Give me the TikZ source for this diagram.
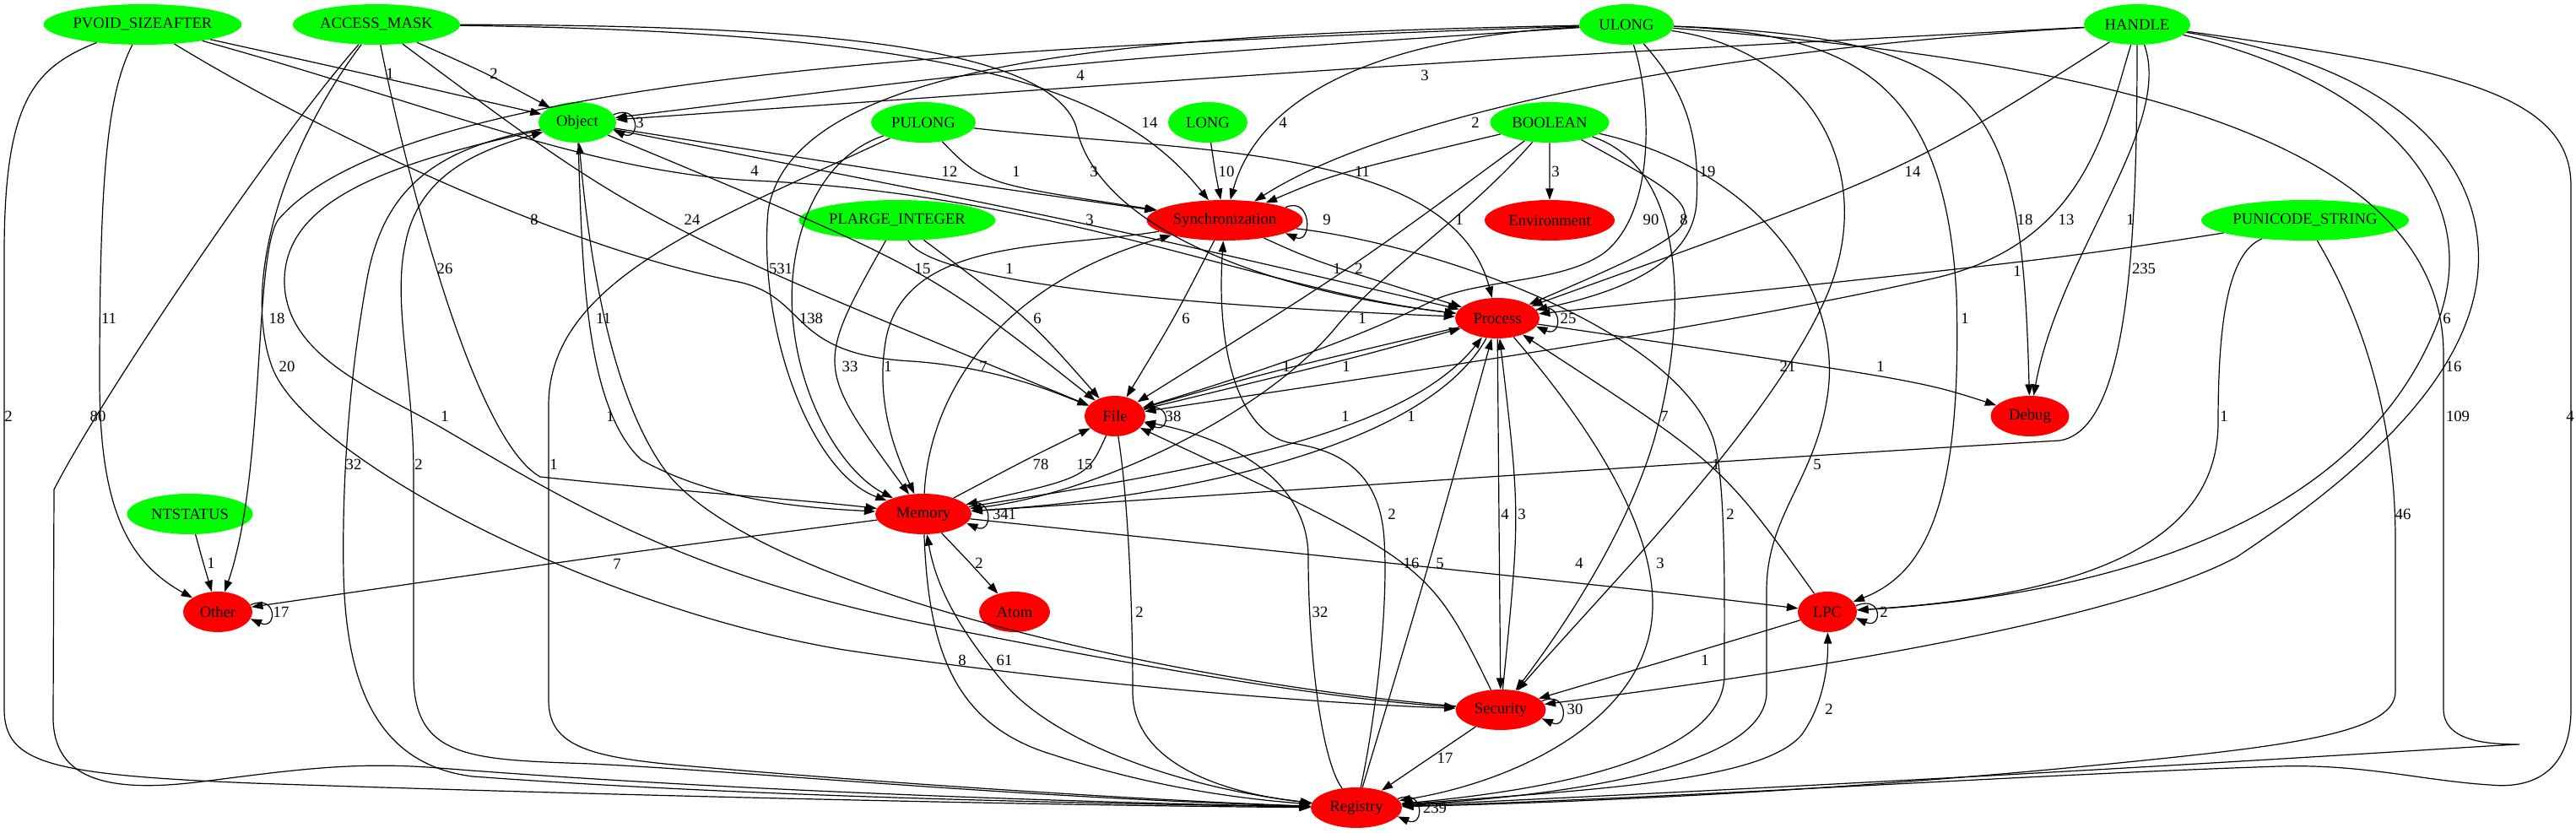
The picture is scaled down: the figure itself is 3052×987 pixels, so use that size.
\documentclass[tikz,border=0pt]{standalone}
\usepackage{fontspec}
\setmainfont{Liberation Serif}
\usetikzlibrary{shapes.geometric,arrows.meta,calc}
\tikzset{
  gn/.style={ellipse,fill=green,draw=none,inner sep=0pt,minimum height=36pt,font=\fontsize{14}{16}\selectfont},
  rn/.style={ellipse,fill=red,draw=none,inner sep=0pt,minimum height=36pt,font=\fontsize{14}{16}\selectfont},
  edg/.style={draw=black,line width=0.9pt,-{Triangle[length=10pt,width=7pt]}},
  lbl/.style={font=\fontsize{14}{16}\selectfont,inner sep=0pt,text=black},
}
\newcommand\QEdge[7]{\draw[edg] (#1) .. controls ($1.3333*(#3,#4)-0.16667*(#1)-0.16667*(#2)$) .. (#2) node[lbl,at={(#6,#7)}]{#5};}
\newcommand\SelfLoop[4]{\draw[edg] (#1.12) .. controls +(32,-14) and +(32,14) .. (#1.-12) node[lbl,at={(#3,#4)}]{#2};}
\begin{document}
\begin{tikzpicture}[x=0.75pt,y=-0.75pt]
\fill[white] (0,0) rectangle (3052,987);
\useasboundingbox (0,0) rectangle (3052,987);
% nodes
\node[gn,minimum width=176pt] (PVOID) at (169,29) {PVOID\_SIZEAFTER};
\node[gn,minimum width=148.5pt] (ACCESS) at (446,29) {ACCESS\_MASK};
\node[gn,minimum width=84pt] (ULONG) at (1927,29) {ULONG};
\node[gn,minimum width=94.5pt] (HANDLE) at (2532,29) {HANDLE};
\node[gn,minimum width=69pt] (Object) at (684,145) {Object};
\node[gn,minimum width=93pt] (PULONG) at (1094,145) {PULONG};
\node[gn,minimum width=70.5pt] (LONG) at (1431,145) {LONG};
\node[gn,minimum width=105.75pt] (BOOLEAN) at (1836,145) {BOOLEAN};
\node[gn,minimum width=174.75pt] (PLARGE) at (1063,261) {PLARGE\_INTEGER};
\node[rn,minimum width=138.75pt] (Sync) at (1451,261) {Synchronization};
\node[rn,minimum width=115.5pt] (Env) at (1836,261) {Environment};
\node[gn,minimum width=184.5pt] (PUNICODE) at (2731,261) {PUNICODE\_STRING};
\node[rn,minimum width=75pt] (Process) at (1774,377) {Process};
\node[rn,minimum width=54pt] (File) at (1321,493) {File};
\node[rn,minimum width=69.75pt] (Debug) at (2405,493) {Debug};
\node[gn,minimum width=111.75pt] (NTSTATUS) at (225,609) {NTSTATUS};
\node[rn,minimum width=85.5pt] (Memory) at (1094,609) {Memory};
\node[rn,minimum width=61.5pt] (Other) at (258,725) {Other};
\node[rn,minimum width=63pt] (Atom) at (1202,725) {Atom};
\node[rn,minimum width=52.5pt] (LPC) at (2165,725) {LPC};
\node[rn,minimum width=80.25pt] (Security) at (1778,841) {Security};
\node[rn,minimum width=81pt] (Registry) at (1607,957) {Registry};
% rank 1
\QEdge{PVOID}{Object}{430}{87}{1}{462}{87}
\QEdge{ACCESS}{Object}{574}{87}{2}{585}{87}
\QEdge{ULONG}{Object}{1280}{76}{4}{1280}{89}
\QEdge{HANDLE}{Object}{1688}{76}{3}{1688}{89}
% rank 2
\draw[edg] (ACCESS) .. controls (1150,38) and (1330,110) .. (Sync) node[lbl,at={(1362,145)}]{14};
\draw[edg] (ULONG) .. controls (1620,45) and (1490,120) .. (Sync) node[lbl,at={(1520,145)}]{4};
\draw[edg] (HANDLE) .. controls (2000,60) and (1640,140) .. (Sync) node[lbl,at={(1748,145)}]{2};
% rank 3
\draw[edg] (PVOID) .. controls (500,120) and (700,205) .. (894,214) .. controls (1250,230) and (1500,345) .. (Process) node[lbl,at={(894,202)}]{4};
\QEdge{Object}{Sync}{1125}{214}{12}{1125}{203}
\QEdge{PULONG}{Sync}{1192}{214}{1}{1204}{203}
\draw[edg] (ACCESS) .. controls (900,30) and (1240,45) .. (1275,150) .. controls (1300,270) and (1500,345) .. (Process) node[lbl,at={(1296,203)}]{3};
\QEdge{LONG}{Sync}{1440}{203}{10}{1453}{203}
\QEdge{BOOLEAN}{Sync}{1597}{205}{11}{1614}{203}
\QEdge{BOOLEAN}{Env}{1836}{203}{3}{1843}{203}
\draw[edg] (ULONG) .. controls (1990,100) and (2015,150) .. (2010,240) .. controls (2005,320) and (1900,350) .. (Process) node[lbl,at={(2023,203)}]{19};
\QEdge{HANDLE}{Process}{2233}{203}{14}{2266}{203}
% rank 4
\draw[edg] (PVOID) .. controls (350,140) and (650,290) .. (870,333) .. controls (960,350) and (930,420) .. (1080,428) .. controls (1180,435) and (1250,465) .. (File) node[lbl,at={(633,260)}]{8};
\QEdge{ACCESS}{File}{790}{262}{24}{820}{260}
\QEdge{Object}{Process}{1278}{264}{3}{1291}{260}
\draw[edg] (PULONG) .. controls (1400,180) and (1720,170) .. (Process) node[lbl,at={(1729,260)}]{1};
\draw[edg] (ULONG) .. controls (1955,110) and (1965,250) .. (1900,300) .. controls (1850,335) and (1760,330) .. (1700,355) .. controls (1640,385) and (1560,420) .. (File) node[lbl,at={(1956,260)}]{90};
\QEdge{BOOLEAN}{Process}{1985}{260}{8}{1995}{260}
\draw[edg] (ULONG) .. controls (2360,45) and (2395,120) .. (Debug) node[lbl,at={(2399,260)}]{18};
\draw[edg] (HANDLE) .. controls (2495,150) and (2470,290) .. (2290,330) .. controls (2000,395) and (1600,450) .. (File) node[lbl,at={(2448,260)}]{13};
\draw[edg] (HANDLE) .. controls (2575,150) and (2440,300) .. (Debug) node[lbl,at={(2524,260)}]{1};
% rank 5
\draw[edg] (ACCESS) .. controls (480,200) and (560,520) .. (640,565) .. controls (800,582) and (950,592) .. (Memory) node[lbl,at={(527,318)}]{26};
\draw[edg] (ULONG) .. controls (1400,40) and (940,60) .. (910,250) .. controls (898,390) and (960,560) .. (Memory) node[lbl,at={(925,318)}]{531};
\QEdge{Object}{File}{1075}{318}{15}{1093}{318}
\draw[edg] (PLARGE) .. controls (1100,330) and (1350,360) .. (Process) node[lbl,at={(1196,318)}]{1};
\QEdge{Sync}{Process}{1572}{312}{1}{1584}{318}
\QEdge{BOOLEAN}{File}{1596}{318}{2}{1610}{318}
\QEdge{PUNICODE}{Process}{2390}{310}{1}{2390}{321}
\draw[edg] (HANDLE) .. controls (2532,300) and (2520,510) .. (2440,522) .. controls (2000,548) and (1400,590) .. (Memory) node[lbl,at={(2540,318)}]{235};
% rank 6
\draw[edg] (PVOID) .. controls (128,110) and (118,200) .. (118,450) .. controls (118,600) and (150,665) .. (Other) node[lbl,at={(129,377)}]{11};
\draw[edg] (ULONG) .. controls (1200,55) and (480,85) .. (330,260) .. controls (300,300) and (315,560) .. (Other) node[lbl,at={(328,377)}]{18};
\draw[edg] (Object) .. controls (690,300) and (690,480) .. (760,545) .. controls (850,595) and (960,602) .. (Memory) node[lbl,at={(715,377)}]{11};
\draw[edg] (PULONG) .. controls (960,190) and (930,300) .. (940,385) .. controls (950,480) and (1000,560) .. (Memory) node[lbl,at={(961,377)}]{138};
\QEdge{PLARGE}{File}{1212}{377}{6}{1229}{377}
\QEdge{Sync}{File}{1390}{377}{6}{1405}{377}
\draw[edg] (BOOLEAN) .. controls (1740,255) and (1640,320) .. (1585,385) .. controls (1500,490) and (1300,585) .. (Memory) node[lbl,at={(1614,377)}]{1};
\draw[edg] (ULONG) .. controls (2200,40) and (2305,100) .. (2318,350) .. controls (2325,600) and (2280,680) .. (LPC) node[lbl,at={(2328,377)}]{1};
\draw[edg] (HANDLE) .. controls (2800,90) and (2955,220) .. (2885,390) .. controls (2790,620) and (2500,705) .. (LPC) node[lbl,at={(2899,377)}]{6};
% rank 7
\draw[edg] (HANDLE) .. controls (2850,80) and (2950,200) .. (2935,330) .. controls (2920,450) and (2800,560) .. (2650,660) .. controls (2500,740) and (2100,800) .. (Security) node[lbl,at={(2907,434)}]{16};
\draw[edg] (ACCESS) .. controls (340,170) and (285,330) .. (322,434) .. controls (360,540) and (700,720) .. (1000,770) .. controls (1300,815) and (1600,835) .. (Security) node[lbl,at={(340,434)}]{20};
\QEdge{PLARGE}{Memory}{994}{434}{33}{1007}{434}
\draw[edg] (Sync) .. controls (1250,295) and (1075,280) .. (1050,400) .. controls (1035,480) and (1065,545) .. (Memory) node[lbl,at={(1052,434)}]{1};
\draw[edg] (Memory) .. controls (1100,480) and (1170,340) .. (Sync) node[lbl,at={(1165,434)}]{7};
\QEdge{Process}{File}{1512}{440}{1}{1524}{434}
\QEdge{File}{Process}{1586}{428}{1}{1595}{434}
\draw[edg] (ULONG) .. controls (2150,60) and (2230,210) .. (2160,360) .. controls (2090,510) and (1900,700) .. (Security) node[lbl,at={(2118,434)}]{21};
\QEdge{Process}{Debug}{2228}{447}{1}{2228}{434}
% rank 8
\draw[edg] (PVOID) .. controls (40,80) and (5,120) .. (5,300) -- (5,840) .. controls (5,905) and (60,918) .. (300,928) .. controls (800,945) and (1300,955) .. (Registry) node[lbl,at={(10,493)}]{2};
\draw[edg] (ACCESS) .. controls (330,160) and (120,470) .. (64,580) -- (63,850) .. controls (63,925) and (130,940) .. (240,926) .. controls (350,912) and (420,902) .. (520,910) .. controls (900,940) and (1350,952) .. (Registry) node[lbl,at={(116,493)}]{80};
\draw[edg] (Object) .. controls (450,195) and (340,240) .. (337,330) .. controls (335,420) and (440,460) .. (520,505) .. controls (650,580) and (800,680) .. (1100,740) .. controls (1400,800) and (1600,830) .. (Security) node[lbl,at={(527,493)}]{1};
\draw[edg] (Security) .. controls (1400,810) and (900,700) .. (790,560) .. controls (730,480) and (700,330) .. (Object) node[lbl,at={(723,493)}]{1};
\draw[edg] (Process) .. controls (1690,530) and (1400,590) .. (Memory) node[lbl,at={(1594,493)}]{1};
\draw[edg] (Memory) .. controls (1400,560) and (1660,520) .. (Process) node[lbl,at={(1672,493)}]{1};
\draw[edg] (BOOLEAN) .. controls (2000,200) and (2000,380) .. (1960,520) .. controls (1925,640) and (1840,760) .. (Security) node[lbl,at={(1972,493)}]{7};
\draw[edg] (PUNICODE) .. controls (2640,300) and (2628,380) .. (2628,500) .. controls (2628,640) and (2480,705) .. (LPC) node[lbl,at={(2635,493)}]{1};
\draw[edg] (ULONG) .. controls (2450,70) and (2895,150) .. (2895,420) -- (2895,840) .. controls (2895,876) and (2940,882) .. (2985,882) .. controls (2930,884) and (2500,915) .. (Registry) node[lbl,at={(2912,493)}]{109};
\draw[edg] (HANDLE) .. controls (2900,80) and (3046,110) .. (3046,220) -- (3046,840) .. controls (3046,915) and (3000,935) .. (2950,930) .. controls (2870,925) and (2800,905) .. (2700,908) .. controls (2400,918) and (2000,945) .. (Registry) node[lbl,at={(3045,493)}]{4};
% rank 9
\draw[edg] (Object) .. controls (520,175) and (455,220) .. (435,330) .. controls (415,440) and (405,560) .. (407,680) .. controls (410,800) and (440,905) .. (560,920) .. controls (900,945) and (1300,952) .. (Registry) node[lbl,at={(419,550)}]{32};
\draw[edg] (Registry) .. controls (1200,945) and (900,915) .. (700,905) .. controls (560,900) and (490,900) .. (490,800) -- (490,560) .. controls (490,450) and (465,360) .. (480,290) .. controls (495,210) and (560,180) .. (Object) node[lbl,at={(496,550)}]{2};
\draw[edg] (PULONG) .. controls (850,260) and (650,330) .. (650,480) -- (650,830) .. controls (650,885) and (700,898) .. (820,908) .. controls (1100,932) and (1400,950) .. (Registry) node[lbl,at={(656,550)}]{1};
\QEdge{Memory}{File}{1214}{546}{78}{1233}{550}
\QEdge{File}{Memory}{1268}{562}{15}{1285}{550}
\QEdge{LPC}{Process}{2022}{550}{1}{2033}{550}
\draw[edg] (BOOLEAN) .. controls (2080,200) and (2185,340) .. (2165,470) .. controls (2150,570) and (2093,610) .. (2093,700) -- (2093,820) .. controls (2093,900) and (1900,940) .. (Registry) node[lbl,at={(2153,550)}]{5};
% rank 10
\draw[edg] (Registry) .. controls (1630,850) and (1645,720) .. (1640,640) .. controls (1636,570) and (1600,535) .. (1530,525) .. controls (1470,515) and (1440,420) .. (Sync) node[lbl,at={(1649,609)}]{2};
\QEdge{Process}{Security}{1776}{609}{4}{1783}{609}
\QEdge{Security}{Process}{1795}{609}{3}{1803}{609}
\draw[edg] (Sync) .. controls (1700,290) and (1985,390) .. (2030,520) .. controls (2045,570) and (2043,700) .. (2043,800) .. controls (2043,895) and (1850,935) .. (Registry) node[lbl,at={(2050,609)}]{2};
\draw[edg] (PUNICODE) .. controls (2790,360) and (2838,480) .. (2838,640) -- (2838,820) .. controls (2838,870) and (2700,885) .. (2500,905) .. controls (2200,935) and (1900,950) .. (Registry) node[lbl,at={(2847,609)}]{46};
% rank 11
\QEdge{NTSTATUS}{Other}{241}{667}{1}{250}{667}
\QEdge{Memory}{Other}{731}{657}{7}{731}{668}
\QEdge{Memory}{Atom}{1149}{667}{2}{1160}{667}
\QEdge{Security}{File}{1657}{667}{16}{1672}{667}
\QEdge{Registry}{Process}{1693}{667}{5}{1706}{667}
\QEdge{Memory}{LPC}{1860}{690}{4}{1871}{667}
\draw[edg] (Process) .. controls (1880,500) and (1960,620) .. (1958,720) .. controls (1955,850) and (1800,925) .. (Registry) node[lbl,at={(1967,667)}]{3};
% rank 12
\draw[edg] (File) .. controls (1338,600) and (1342,740) .. (1342,820) .. controls (1342,905) and (1450,940) .. (Registry) node[lbl,at={(1350,725)}]{2};
\draw[edg] (Registry) .. controls (1565,900) and (1550,770) .. (1550,660) .. controls (1550,570) and (1460,520) .. (File) node[lbl,at={(1564,725)}]{32};
% rank 13
\draw[edg] (Memory) .. controls (1100,770) and (1130,860) .. (1250,895) .. controls (1350,928) and (1450,945) .. (Registry) node[lbl,at={(1140,782)}]{8};
\draw[edg] (Registry) .. controls (1400,935) and (1250,880) .. (1190,810) .. controls (1140,750) and (1110,700) .. (Memory) node[lbl,at={(1190,782)}]{61};
\QEdge{LPC}{Security}{2020}{769}{1}{2020}{782}
% rank 14-15
\draw[edg] (Registry) .. controls (1900,935) and (2090,925) .. (2135,870) .. controls (2160,835) and (2166,790) .. (LPC) node[lbl,at={(2167,840)}]{2};
\QEdge{Security}{Registry}{1694}{898}{17}{1712}{898}
% self loops
\SelfLoop{Object}{3}{758}{145}
\SelfLoop{Sync}{9}{1572}{260}
\SelfLoop{Process}{25}{1858}{377}
\SelfLoop{File}{38}{1390}{493}
\SelfLoop{Memory}{341}{1190}{609}
\SelfLoop{Other}{17}{333}{725}
\SelfLoop{LPC}{2}{2232}{725}
\SelfLoop{Security}{30}{1866}{840}
\SelfLoop{Registry}{239}{1700}{957}
\end{tikzpicture}
\end{document}
